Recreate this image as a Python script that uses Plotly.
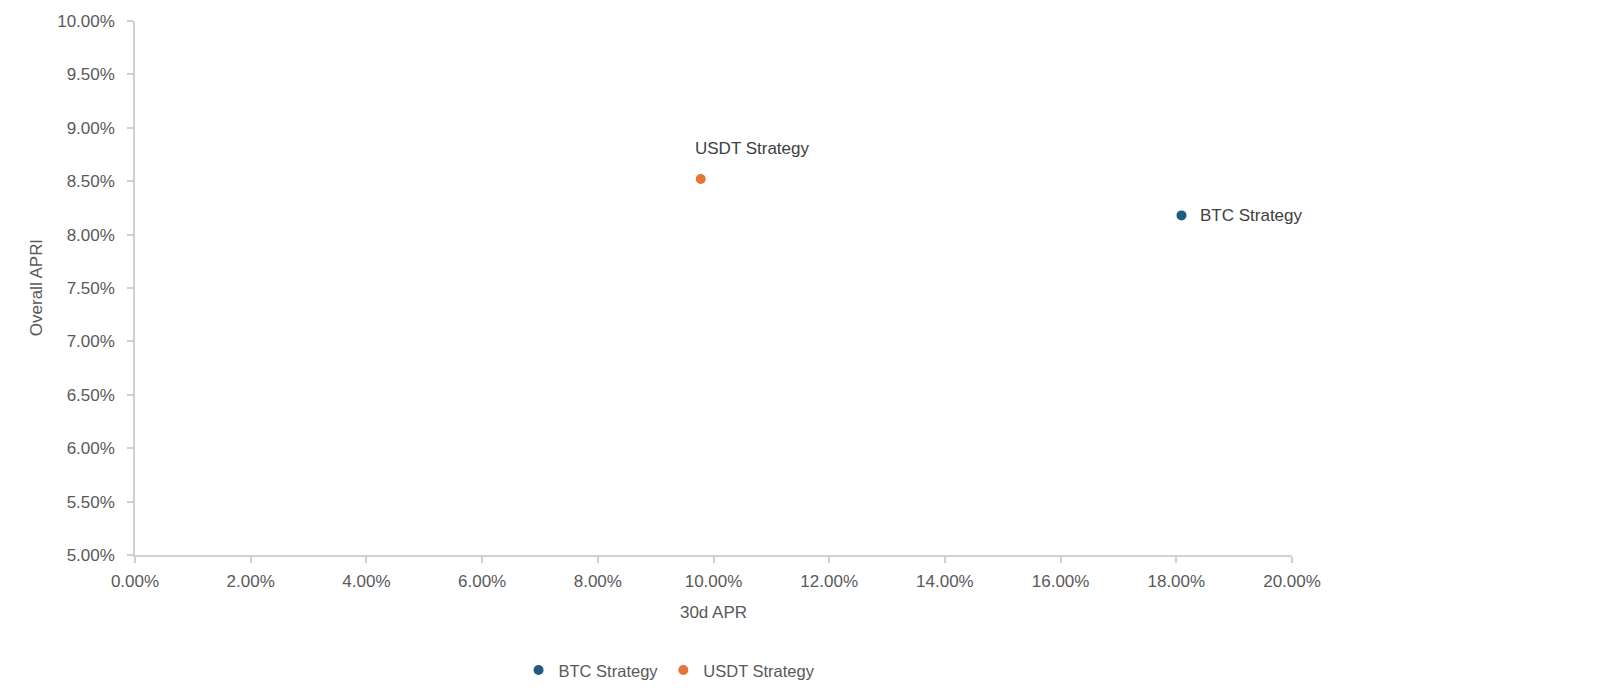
import plotly.graph_objects as go

series_names = ["BTC Strategy", "USDT Strategy"]
apr_30d = [0.1809, 0.0978]
apr_overall = [0.0818, 0.0852]
colors = ["#1F5C84", "#E47536"]

x_ticks = [0.00, 0.02, 0.04, 0.06, 0.08, 0.10, 0.12, 0.14, 0.16, 0.18, 0.20]
y_ticks = [0.050, 0.055, 0.060, 0.065, 0.070, 0.075, 0.080, 0.085, 0.090, 0.095, 0.100]

FONT = "Liberation Sans"
TICK_COLOR = "#595959"
AXIS_COLOR = "#D0D0D0"

fig = go.Figure()
for name, x, y, c in zip(series_names, apr_30d, apr_overall, colors):
    fig.add_trace(go.Scatter(
        x=[x], y=[y], mode="markers", name=name,
        marker=dict(size=10, color=c, line=dict(width=0)),
    ))

# data labels
fig.add_annotation(x=apr_30d[1], y=apr_overall[1], text=series_names[1],
                   showarrow=False, xanchor="left", yanchor="middle",
                   xshift=-8, yshift=31,
                   font=dict(family=FONT, size=17, color="#404040"))
fig.add_annotation(x=apr_30d[0], y=apr_overall[0], text=series_names[0],
                   showarrow=False, xanchor="left", yanchor="middle",
                   xshift=16, yshift=0,
                   font=dict(family=FONT, size=17, color="#404040"))

fig.update_layout(
    width=1614, height=700,
    margin=dict(l=135, r=322, t=21, b=143),
    plot_bgcolor="white", paper_bgcolor="white",
    font=dict(family=FONT, size=17, color=TICK_COLOR),
    showlegend=True,
    legend=dict(orientation="h", x=0.462, xanchor="center", y=-0.216, yanchor="middle",
                font=dict(family=FONT, size=16.5, color=TICK_COLOR),
                itemwidth=30, tracegroupgap=0),
    xaxis=dict(
        range=[0, 0.20], tickvals=x_ticks, tickformat=".2%",
        showgrid=False, zeroline=False,
        showline=True, linecolor=AXIS_COLOR, linewidth=1.5,
        ticks="outside", ticklen=6, tickcolor=AXIS_COLOR, tickwidth=1.5,
        tickfont=dict(family=FONT, size=17, color=TICK_COLOR),
        ticklabelstandoff=4,
        title=dict(text="30d APR", font=dict(family=FONT, size=17, color=TICK_COLOR), standoff=16),
    ),
    yaxis=dict(
        range=[0.05, 0.10], tickvals=y_ticks, tickformat=".2%",
        showgrid=False, zeroline=False,
        showline=True, linecolor=AXIS_COLOR, linewidth=1.5,
        ticks="outside", ticklen=6, tickcolor=AXIS_COLOR, tickwidth=1.5,
        tickfont=dict(family=FONT, size=17, color=TICK_COLOR),
        ticklabelstandoff=9,
        title=dict(text="Overall APRl", font=dict(family=FONT, size=17, color=TICK_COLOR), standoff=10),
    ),
)

fig.write_html("out.html")
